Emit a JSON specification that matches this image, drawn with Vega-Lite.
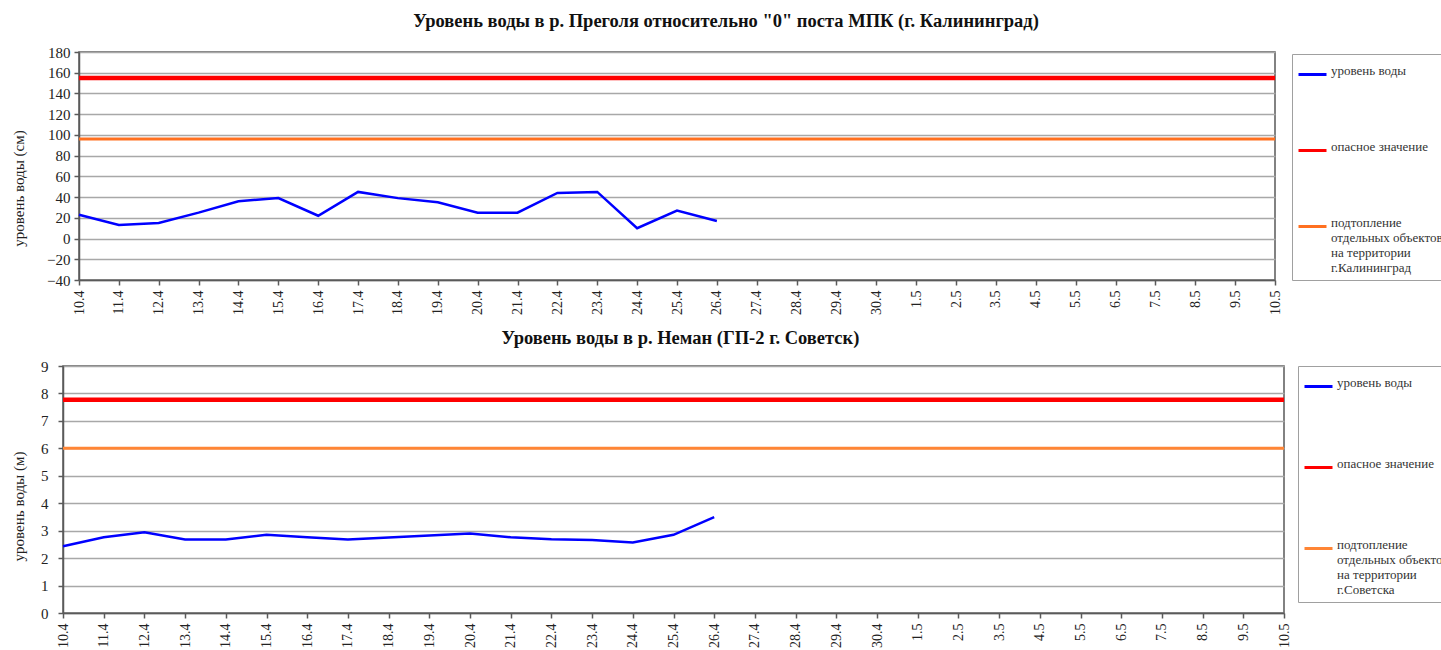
{
  "$schema": "https://vega.github.io/schema/vega-lite/v6.json",
  "background": "white",
  "padding": {"left": 9, "top": 10, "right": 0, "bottom": 0},
  "config": {
    "font": "Liberation Serif",
    "view": {"stroke": "#5a5a5a", "strokeWidth": 1.5},
    "axis": {
      "labelFont": "Liberation Serif",
      "titleFont": "Liberation Serif",
      "labelColor": "#222222",
      "titleColor": "#222222",
      "titleFontWeight": "normal",
      "domainColor": "#5a5a5a",
      "domainWidth": 1.5,
      "tickColor": "#5a5a5a",
      "tickWidth": 1.5,
      "gridColor": "#a8a8a8",
      "gridWidth": 1.5
    },
    "legend": {
      "labelFont": "Liberation Serif",
      "labelFontSize": 13,
      "labelColor": "#333333",
      "labelLimit": 400
    }
  },
  "spacing": 11,
  "resolve": {
    "scale": {"color": "independent", "x": "independent", "y": "independent"},
    "legend": {"color": "independent"}
  },
  "vconcat": [
    {
      "spacing": 0,
      "resolve": {"scale": {"color": "independent"}, "legend": {"color": "independent"}},
      "hconcat": [
        {
          "width": 1, "height": 1,
          "view": {"stroke": null},
          "data": {"values": []},
          "mark": {"type": "rule", "opacity": 0},
          "encoding": {}
        },
        {
          "width": 1196,
          "height": 228,
          "title": {"text": "Уровень воды в р. Преголя относительно \"0\" поста МПК (г. Калининград)", "fontSize": 18.5, "fontWeight": "bold", "font": "Liberation Serif", "color": "#111111", "frame": "group", "anchor": "middle", "dx": 49, "offset": 15},
          "data": {"values": [
            {"d": "10.4", "s": "уровень воды", "v": 23},
            {"d": "11.4", "s": "уровень воды", "v": 13},
            {"d": "12.4", "s": "уровень воды", "v": 15},
            {"d": "13.4", "s": "уровень воды", "v": 25},
            {"d": "14.4", "s": "уровень воды", "v": 36},
            {"d": "15.4", "s": "уровень воды", "v": 39},
            {"d": "16.4", "s": "уровень воды", "v": 22},
            {"d": "17.4", "s": "уровень воды", "v": 45},
            {"d": "18.4", "s": "уровень воды", "v": 39},
            {"d": "19.4", "s": "уровень воды", "v": 35},
            {"d": "20.4", "s": "уровень воды", "v": 25},
            {"d": "21.4", "s": "уровень воды", "v": 25},
            {"d": "22.4", "s": "уровень воды", "v": 44},
            {"d": "23.4", "s": "уровень воды", "v": 45},
            {"d": "24.4", "s": "уровень воды", "v": 10},
            {"d": "25.4", "s": "уровень воды", "v": 27},
            {"d": "26.4", "s": "уровень воды", "v": 17},
            {"d": null, "s": "опасное значение", "v": 155},
            {"d": null, "s": "подтопление", "v": 96}
          ]},
          "encoding": {
            "y": {"field": "v", "type": "quantitative", "scale": {"domain": [-40, 180], "nice": false, "zero": false},
                  "axis": {"values": [-40, -20, 0, 20, 40, 60, 80, 100, 120, 140, 160, 180], "title": "уровень воды (см)", "titleFont": "Liberation Serif", "labelFont": "Liberation Serif", "titleFontSize": 15, "labelFontSize": 15, "tickSize": 5, "labelPadding": 4, "titleY": 136, "titlePadding": 20}},
            "color": {"field": "s", "type": "nominal",
                      "scale": {"domain": ["уровень воды", "опасное значение", "подтопление"], "range": ["#0000ff", "#ff0000", "#ff7020"]},
                      "legend": {"title": null, "orient": "none", "legendX": 1213, "legendY": 2, "symbolType": "stroke", "symbolSize": 784, "symbolStrokeWidth": 3, "padding": 5, "rowPadding": 54, "strokeColor": "#a0a0a0", "labelOffset": 3, "labelBaseline": "alphabetic", "labelFont": "Liberation Serif", "labelFontSize": 13,
                                 "labelExpr": "datum.value == 'подтопление' ? ['подтопление', 'отдельных объектов', 'на территории', 'г.Калининград'] : datum.value"}}
          },
          "layer": [
            {
              "transform": [{"filter": "datum.s == 'опасное значение'"}],
              "mark": {"type": "rule", "strokeWidth": 4.5}
            },
            {
              "transform": [{"filter": "datum.s == 'подтопление'"}],
              "mark": {"type": "rule", "strokeWidth": 3}
            },
            {
              "transform": [{"filter": "datum.s == 'уровень воды'"}],
              "mark": {"type": "line", "strokeWidth": 2.5},
              "encoding": {
                "x": {"field": "d", "type": "ordinal", "sort": null,
                      "scale": {"type": "point", "padding": 0, "domain": ["10.4","11.4","12.4","13.4","14.4","15.4","16.4","17.4","18.4","19.4","20.4","21.4","22.4","23.4","24.4","25.4","26.4","27.4","28.4","29.4","30.4","1.5","2.5","3.5","4.5","5.5","6.5","7.5","8.5","9.5","10.5"]},
                      "axis": {"title": null, "labelAngle": -90, "labelFont": "Liberation Serif", "labelFontSize": 14, "tickSize": 5, "labelPadding": 5, "grid": false}}
              }
            }
          ]
        }
      ]
    },
    {
      "spacing": 0,
      "resolve": {"scale": {"color": "independent"}, "legend": {"color": "independent"}},
      "hconcat": [
        {
          "width": 1, "height": 1,
          "view": {"stroke": null},
          "data": {"values": []},
          "mark": {"type": "rule", "opacity": 0},
          "encoding": {}
        },
        {
          "width": 1221,
          "height": 247,
          "title": {"text": "Уровень воды в р. Неман (ГП-2 г. Советск)", "fontSize": 18.5, "fontWeight": "bold", "font": "Liberation Serif", "color": "#111111", "frame": "group", "anchor": "middle", "dx": 7, "offset": 12},
          "data": {"values": [
            {"d": "10.4", "s": "уровень воды", "v": 2.43},
            {"d": "11.4", "s": "уровень воды", "v": 2.76},
            {"d": "12.4", "s": "уровень воды", "v": 2.94},
            {"d": "13.4", "s": "уровень воды", "v": 2.68},
            {"d": "14.4", "s": "уровень воды", "v": 2.68},
            {"d": "15.4", "s": "уровень воды", "v": 2.85},
            {"d": "16.4", "s": "уровень воды", "v": 2.76},
            {"d": "17.4", "s": "уровень воды", "v": 2.68},
            {"d": "18.4", "s": "уровень воды", "v": 2.75},
            {"d": "19.4", "s": "уровень воды", "v": 2.82},
            {"d": "20.4", "s": "уровень воды", "v": 2.9},
            {"d": "21.4", "s": "уровень воды", "v": 2.76},
            {"d": "22.4", "s": "уровень воды", "v": 2.69},
            {"d": "23.4", "s": "уровень воды", "v": 2.66},
            {"d": "24.4", "s": "уровень воды", "v": 2.57},
            {"d": "25.4", "s": "уровень воды", "v": 2.85},
            {"d": "26.4", "s": "уровень воды", "v": 3.49},
            {"d": null, "s": "опасное значение", "v": 7.77},
            {"d": null, "s": "подтопление", "v": 6.0}
          ]},
          "encoding": {
            "y": {"field": "v", "type": "quantitative", "scale": {"domain": [0, 9], "nice": false},
                  "axis": {"values": [0, 1, 2, 3, 4, 5, 6, 7, 8, 9], "title": "уровень воды (м)", "titleFont": "Liberation Serif", "labelFont": "Liberation Serif", "titleFontSize": 15, "labelFontSize": 15, "tickSize": 5, "labelPadding": 10, "titleY": 140, "titlePadding": 14}},
            "color": {"field": "s", "type": "nominal",
                      "scale": {"domain": ["уровень воды", "опасное значение", "подтопление"], "range": ["#0000ff", "#ff0000", "#ff8535"]},
                      "legend": {"title": null, "orient": "none", "legendX": 1235, "legendY": 0, "symbolType": "stroke", "symbolSize": 784, "symbolStrokeWidth": 3, "padding": 5, "rowPadding": 59, "strokeColor": "#a0a0a0", "labelOffset": 3, "labelBaseline": "alphabetic", "labelFont": "Liberation Serif", "labelFontSize": 13,
                                 "labelExpr": "datum.value == 'подтопление' ? ['подтопление', 'отдельных объектов', 'на территории', 'г.Советска'] : datum.value"}}
          },
          "layer": [
            {
              "transform": [{"filter": "datum.s == 'опасное значение'"}],
              "mark": {"type": "rule", "strokeWidth": 4.5}
            },
            {
              "transform": [{"filter": "datum.s == 'подтопление'"}],
              "mark": {"type": "rule", "strokeWidth": 3}
            },
            {
              "transform": [{"filter": "datum.s == 'уровень воды'"}],
              "mark": {"type": "line", "strokeWidth": 2.5},
              "encoding": {
                "x": {"field": "d", "type": "ordinal", "sort": null,
                      "scale": {"type": "point", "padding": 0, "domain": ["10.4","11.4","12.4","13.4","14.4","15.4","16.4","17.4","18.4","19.4","20.4","21.4","22.4","23.4","24.4","25.4","26.4","27.4","28.4","29.4","30.4","1.5","2.5","3.5","4.5","5.5","6.5","7.5","8.5","9.5","10.5"]},
                      "axis": {"title": null, "labelAngle": -90, "labelFont": "Liberation Serif", "labelFontSize": 14, "tickSize": 5, "labelPadding": 5, "grid": false}}
              }
            }
          ]
        }
      ]
    }
  ]
}
